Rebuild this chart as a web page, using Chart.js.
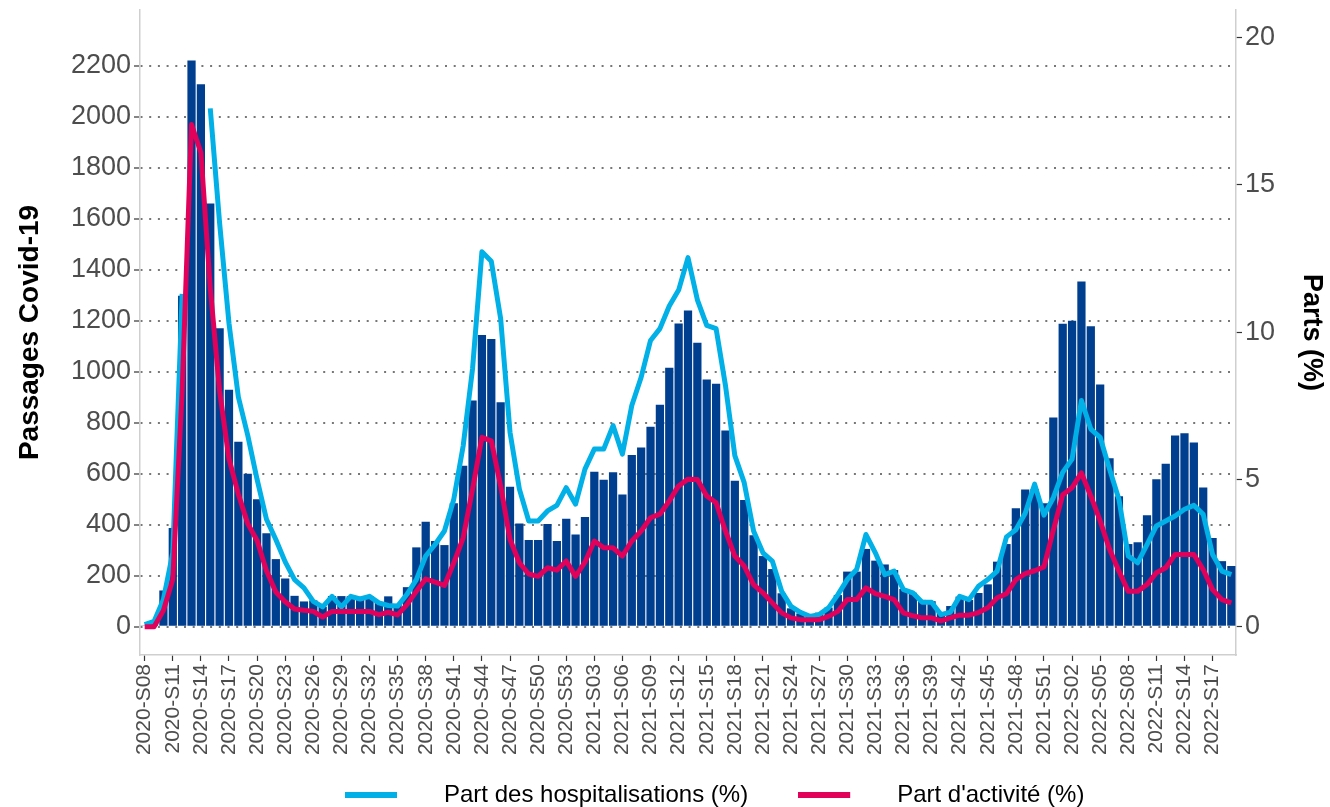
<!DOCTYPE html>
<html>
<head>
<meta charset="utf-8">
<script src="https://cdn.jsdelivr.net/npm/chart.js@4.4.1/dist/chart.umd.min.js"></script>
<style>
html,body{margin:0;padding:0;background:#ffffff;overflow:hidden}
canvas{display:block}
</style>
</head>
<body>
<canvas id="c" width="1330" height="807"></canvas>
<script>
// ---- categories (ISO weeks) ----
const weeks = [
'2020-S08','2020-S09','2020-S10','2020-S11','2020-S12','2020-S13','2020-S14','2020-S15','2020-S16','2020-S17',
'2020-S18','2020-S19','2020-S20','2020-S21','2020-S22','2020-S23','2020-S24','2020-S25','2020-S26','2020-S27',
'2020-S28','2020-S29','2020-S30','2020-S31','2020-S32','2020-S33','2020-S34','2020-S35','2020-S36','2020-S37',
'2020-S38','2020-S39','2020-S40','2020-S41','2020-S42','2020-S43','2020-S44','2020-S45','2020-S46','2020-S47',
'2020-S48','2020-S49','2020-S50','2020-S51','2020-S52','2020-S53',
'2021-S01','2021-S02','2021-S03','2021-S04','2021-S05','2021-S06','2021-S07','2021-S08','2021-S09','2021-S10',
'2021-S11','2021-S12','2021-S13','2021-S14','2021-S15','2021-S16','2021-S17','2021-S18','2021-S19','2021-S20',
'2021-S21','2021-S22','2021-S23','2021-S24','2021-S25','2021-S26','2021-S27','2021-S28','2021-S29','2021-S30',
'2021-S31','2021-S32','2021-S33','2021-S34','2021-S35','2021-S36','2021-S37','2021-S38','2021-S39','2021-S40',
'2021-S41','2021-S42','2021-S43','2021-S44','2021-S45','2021-S46','2021-S47','2021-S48','2021-S49','2021-S50',
'2021-S51','2021-S52',
'2022-S01','2022-S02','2022-S03','2022-S04','2022-S05','2022-S06','2022-S07','2022-S08','2022-S09','2022-S10',
'2022-S11','2022-S12','2022-S13','2022-S14','2022-S15','2022-S16','2022-S17','2022-S18','2022-S19'
];

// ---- series ----
const passages = [
3, 10, 142, 387, 1298, 2220, 2127, 1659, 1170, 929,
725, 600, 500, 366, 265, 189, 121, 99, 103, 78,
120, 120, 120, 114, 120, 97, 119, 88, 155, 311,
411, 336, 320, 484, 631, 887, 1144, 1128, 880, 549,
405, 340, 340, 403, 336, 423, 361, 430, 608, 576,
606, 518, 673, 703, 784, 870, 1015, 1189, 1240, 1113,
969, 953, 769, 572, 497, 359, 277, 226, 131, 72,
52, 39, 55, 75, 124, 216, 216, 305, 259, 244,
222, 148, 133, 105, 100, 55, 81, 118, 105, 132,
166, 255, 324, 464, 538, 540, 484, 820, 1188, 1200,
1353, 1178, 950, 660, 511, 324, 331, 437, 578, 639,
750, 758, 722, 546, 348, 257, 238
];

const partHosp = [
0.07, 0.18, 0.92, 2.51, 11.3, null, null, 17.6, 13.7, 10.3,
7.8, 6.5, 5.0, 3.65, 2.96, 2.2, 1.6, 1.32, 0.86, 0.67,
1.03, 0.67, 1.03, 0.94, 1.03, 0.81, 0.72, 0.7, 1.1, 1.6,
2.4, 2.79, 3.25, 4.33, 6.14, 8.76, 12.73, 12.41, 10.46, 6.6,
4.67, 3.59, 3.59, 3.93, 4.12, 4.72, 4.16, 5.35, 6.03, 6.03,
6.83, 5.86, 7.51, 8.47, 9.72, 10.12, 10.89, 11.43, 12.53, 11.1,
10.23, 10.12, 8.19, 5.81, 4.89, 3.25, 2.51, 2.23, 1.2, 0.69,
0.49, 0.35, 0.41, 0.64, 1.09, 1.6, 1.94, 3.13, 2.51, 1.77,
1.89, 1.26, 1.15, 0.83, 0.83, 0.41, 0.49, 1.03, 0.92, 1.37,
1.6, 1.89, 3.05, 3.29, 3.85, 4.84, 3.79, 4.38, 5.24, 5.69,
7.68, 6.71, 6.43, 5.35, 4.33, 2.4, 2.17, 2.79, 3.42, 3.59,
3.76, 3.99, 4.12, 3.82, 2.45, 1.89, 1.77
];

const partActivite = [
0, 0, 0.55, 1.6, 8.0, 17.05, 16.1, 11.5, 8.0, 5.7,
4.5, 3.5, 2.93, 1.9, 1.18, 0.85, 0.6, 0.56, 0.52, 0.33,
0.52, 0.52, 0.52, 0.52, 0.52, 0.41, 0.49, 0.4, 0.75, 1.2,
1.62, 1.51, 1.4, 2.17, 3.02, 4.67, 6.43, 6.31, 4.78, 2.96,
2.17, 1.79, 1.71, 2.0, 1.92, 2.23, 1.71, 2.19, 2.91, 2.68,
2.68, 2.4, 2.91, 3.25, 3.7, 3.82, 4.27, 4.78, 5.01, 5.0,
4.44, 4.21, 3.25, 2.4, 2.06, 1.43, 1.15, 0.81, 0.47, 0.3,
0.24, 0.24, 0.24, 0.35, 0.52, 0.92, 0.92, 1.32, 1.12, 1.03,
0.92, 0.47, 0.37, 0.3, 0.3, 0.2, 0.3, 0.39, 0.39, 0.48,
0.64, 0.98, 1.12, 1.6, 1.8, 1.9, 2.03, 3.28, 4.48, 4.72,
5.22, 4.44, 3.59, 2.63, 1.89, 1.2, 1.2, 1.43, 1.83, 2.0,
2.45, 2.45, 2.45, 1.94, 1.26, 0.92, 0.81
];

// ---- labels / ticks ----
const seriesNames = ['Passages Covid-19', 'Part des hospitalisations (%)', "Part d'activité (%)"];
const axisTitleLeft = 'Passages Covid-19';
const axisTitleRight = 'Parts (%)';
const leftTicks = [0, 200, 400, 600, 800, 1000, 1200, 1400, 1600, 1800, 2000, 2200];
const rightTicks = [0, 5, 10, 15, 20];
const xLabelStep = 3;

// ---- styles ----
const FONT = "'Liberation Sans', Arial, Helvetica, sans-serif";
const C_BAR = '#003f8f';
const C_HOSP = '#00b0e6';
const C_ACT = '#e1005a';
const C_TICK = '#4d4d4d';
const C_AXIS = '#cfcfcf';

Chart.defaults.font.family = FONT;

function swatch(color) {
  const c = document.createElement('canvas');
  c.width = 87; c.height = 8;
  const g = c.getContext('2d');
  g.fillStyle = color;
  g.fillRect(0, 1, 52, 6);
  return c;
}
const swatches = { 1: swatch(C_HOSP), 2: swatch(C_ACT) };

const legendPlace = {
  id: 'legendPlace',
  afterLayout(chart) {
    const l = chart.legend;
    if (!l) return;
    l.left = 295;
    l.top = 733;
  }
};

new Chart(document.getElementById('c'), {
  data: {
    labels: weeks,
    datasets: [
      {
        type: 'bar', label: seriesNames[0], data: passages, yAxisID: 'y',
        backgroundColor: C_BAR, borderWidth: 0,
        barPercentage: 0.88, categoryPercentage: 1.0, order: 2
      },
      {
        type: 'line', label: seriesNames[1], data: partHosp, yAxisID: 'y1',
        borderColor: C_HOSP, backgroundColor: C_HOSP, borderWidth: 5,
        pointRadius: 0, tension: 0, spanGaps: false,
        borderJoinStyle: 'round', borderCapStyle: 'butt', order: 1
      },
      {
        type: 'line', label: seriesNames[2], data: partActivite, yAxisID: 'y1',
        borderColor: C_ACT, backgroundColor: C_ACT, borderWidth: 5,
        pointRadius: 0, tension: 0, spanGaps: false,
        borderJoinStyle: 'round', borderCapStyle: 'butt', order: 0
      }
    ]
  },
  options: {
    responsive: false,
    animation: false,
    devicePixelRatio: 1,
    layout: { padding: { top: 10, left: 0, right: 0, bottom: 0 } },
    plugins: {
      tooltip: { enabled: false },
      legend: {
        display: true,
        position: 'bottom',
        align: 'start',
        maxHeight: 10,
        labels: {
          usePointStyle: true,
          pointStyleWidth: 87,
          padding: 50,
          color: '#000000',
          font: { size: 24, family: FONT },
          generateLabels: (chart) => [1, 2].map(i => ({
            text: chart.data.datasets[i].label,
            pointStyle: swatches[i],
            fillStyle: chart.data.datasets[i].borderColor,
            strokeStyle: chart.data.datasets[i].borderColor,
            lineWidth: 0,
            hidden: false,
            datasetIndex: i,
            fontColor: '#000000'
          }))
        }
      }
    },
    scales: {
      x: {
        type: 'category',
        offset: true,
        grid: {
          display: true, drawOnChartArea: false, drawTicks: true, offset: false,
          tickLength: 6, tickWidth: 1.2,
          tickColor: (ctx) => (ctx.index % xLabelStep === 0 ? '#333333' : 'rgba(0,0,0,0)')
        },
        border: { display: true, color: C_AXIS, width: 1.5 },
        ticks: {
          autoSkip: false, maxRotation: 90, minRotation: 90, padding: 3,
          color: C_TICK, font: { size: 21, family: FONT },
          callback: (v, i) => (i % xLabelStep === 0 ? weeks[i] : '')
        },
        afterFit: (axis) => { axis.height = 142; axis.paddingLeft = 0; axis.paddingRight = 0; }
      },
      y: {
        type: 'linear', position: 'left',
        min: -111, max: 2418,
        afterBuildTicks: (axis) => { axis.ticks = leftTicks.map(v => ({ value: v })); },
        grid: {
          display: true, drawOnChartArea: true, drawTicks: true,
          color: '#777777', lineWidth: 2,
          tickLength: 6, tickColor: '#333333', tickWidth: 1.2, tickBorderDash: []
        },
        border: { display: true, color: C_AXIS, width: 1.5, dash: [2, 6.7] },
        ticks: {
          padding: 3, color: C_TICK, font: { size: 27, family: FONT },
          callback: (v) => String(v)
        },
        title: {
          display: true, text: axisTitleLeft, color: '#000000',
          font: { size: 28, weight: 'bold', family: FONT },
          padding: { top: 13, bottom: 0 }
        },
        afterFit: (axis) => { axis.width = 140; axis.paddingTop = 0; axis.paddingBottom = 0; }
      },
      y1: {
        type: 'linear', position: 'right',
        min: -0.961, max: 20.94,
        afterBuildTicks: (axis) => { axis.ticks = rightTicks.map(v => ({ value: v })); },
        grid: {
          display: true, drawOnChartArea: false, drawTicks: true,
          tickLength: 6, tickColor: '#333333', tickWidth: 1.2, tickBorderDash: []
        },
        border: { display: true, color: C_AXIS, width: 1.5 },
        ticks: {
          padding: 3, color: C_TICK, font: { size: 27, family: FONT },
          callback: (v) => String(v)
        },
        title: {
          display: true, text: axisTitleRight, color: '#000000',
          font: { size: 27, weight: 'bold', family: FONT },
          padding: { top: 2, bottom: 0 }
        },
        afterFit: (axis) => { axis.width = 94; axis.paddingTop = 0; axis.paddingBottom = 0; }
      }
    }
  },
  plugins: [legendPlace]
});
</script>
</body>
</html>
